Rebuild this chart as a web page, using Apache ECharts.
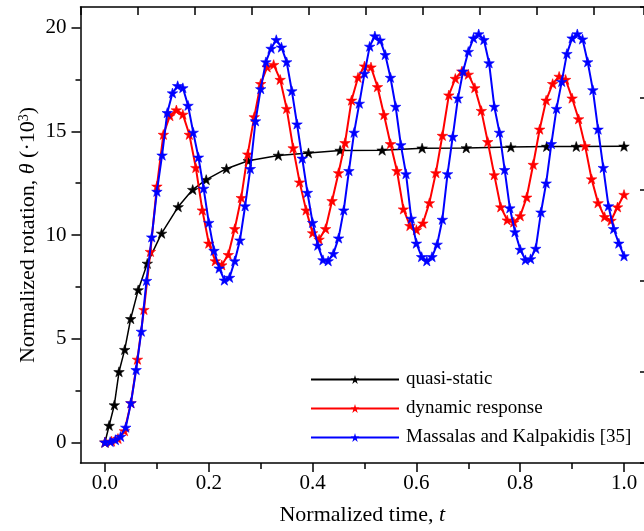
<!DOCTYPE html>
<html><head><meta charset="utf-8">
<script src="https://cdn.jsdelivr.net/npm/echarts@6/dist/echarts.min.js"></script>
<style>html,body{margin:0;padding:0;background:#fff}#c{width:644px;height:531px}</style>
</head><body><div id="c"></div>
<script>
// ---- data ----
const seriesNames = ['quasi-static', 'dynamic response', 'Massalas and Kalpakidis [35]'];

const tQuasi = [0, 0.008, 0.018, 0.027, 0.038, 0.0495, 0.064, 0.0815, 0.109, 0.141, 0.169, 0.195, 0.234, 0.276, 0.334, 0.392, 0.453, 0.534, 0.611, 0.696, 0.782, 0.851, 0.908, 1.0];
const vQuasi = [0, 0.81, 1.80, 3.40, 4.47, 5.96, 7.35, 8.63, 10.08, 11.36, 12.19, 12.67, 13.20, 13.58, 13.84, 13.96, 14.08, 14.09, 14.19, 14.20, 14.24, 14.27, 14.27, 14.28];

const tDynamic = [0, 0.0125, 0.025, 0.0375, 0.05, 0.0625, 0.075, 0.0875, 0.1, 0.1125, 0.125, 0.1375, 0.15, 0.1625, 0.175, 0.1875, 0.2, 0.2125, 0.225, 0.2375, 0.25, 0.2625, 0.275, 0.2875, 0.3, 0.3125, 0.325, 0.3375, 0.35, 0.3625, 0.375, 0.3875, 0.4, 0.4125, 0.425, 0.4375, 0.45, 0.4625, 0.475, 0.4875, 0.5, 0.5125, 0.525, 0.5375, 0.55, 0.5625, 0.575, 0.5875, 0.6, 0.6125, 0.625, 0.6375, 0.65, 0.6625, 0.675, 0.6875, 0.7, 0.7125, 0.725, 0.7375, 0.75, 0.7625, 0.775, 0.7875, 0.8, 0.8125, 0.825, 0.8375, 0.85, 0.8625, 0.875, 0.8875, 0.9, 0.9125, 0.925, 0.9375, 0.95, 0.9625, 0.975, 0.9875, 1.0];
const vDynamic = [0, 0.05, 0.18, 0.55, 1.9, 4.0, 6.4, 9.2, 12.35, 14.85, 15.75, 16.03, 15.82, 14.85, 13.25, 11.2, 9.6, 8.75, 8.55, 9.05, 10.3, 11.8, 13.9, 15.7, 17.3, 18.1, 18.22, 17.5, 16.1, 14.2, 12.55, 11.2, 10.1, 9.79, 10.3, 11.65, 13.0, 14.45, 16.5, 17.6, 18.15, 18.1, 17.15, 15.8, 14.4, 13.1, 11.25, 10.45, 10.25, 10.57, 11.55, 13.0, 14.8, 16.75, 17.55, 17.9, 17.75, 17.1, 16.0, 14.5, 12.9, 11.35, 10.72, 10.62, 10.92, 11.82, 13.4, 15.1, 16.5, 17.3, 17.65, 17.5, 16.6, 15.6, 14.3, 12.7, 11.55, 10.88, 10.7, 11.35, 11.95];

const tMassalas = [0, 0.01, 0.02, 0.03, 0.04, 0.05, 0.06, 0.07, 0.08, 0.09, 0.1, 0.11, 0.12, 0.13, 0.14, 0.15, 0.16, 0.17, 0.18, 0.19, 0.2, 0.21, 0.22, 0.23, 0.24, 0.25, 0.26, 0.27, 0.28, 0.29, 0.3, 0.31, 0.32, 0.33, 0.34, 0.35, 0.36, 0.37, 0.38, 0.39, 0.4, 0.41, 0.42, 0.43, 0.44, 0.45, 0.46, 0.47, 0.48, 0.49, 0.5, 0.51, 0.52, 0.53, 0.54, 0.55, 0.56, 0.57, 0.58, 0.59, 0.6, 0.61, 0.62, 0.63, 0.64, 0.65, 0.66, 0.67, 0.68, 0.69, 0.7, 0.71, 0.72, 0.73, 0.74, 0.75, 0.76, 0.77, 0.78, 0.79, 0.8, 0.81, 0.82, 0.83, 0.84, 0.85, 0.86, 0.87, 0.88, 0.89, 0.9, 0.91, 0.92, 0.93, 0.94, 0.95, 0.96, 0.97, 0.98, 0.99, 1.0];
const vMassalas = [0, 0.03, 0.12, 0.28, 0.72, 1.9, 3.5, 5.35, 7.8, 9.9, 12.1, 13.85, 15.9, 16.85, 17.2, 17.1, 16.25, 14.95, 13.75, 12.25, 10.6, 9.25, 8.4, 7.82, 7.95, 8.75, 9.75, 11.4, 13.2, 15.5, 17.05, 18.35, 19.0, 19.42, 19.06, 18.35, 16.95, 15.35, 13.7, 12.05, 10.6, 9.5, 8.8, 8.75, 9.1, 9.85, 11.2, 13.1, 14.95, 16.35, 17.8, 19.1, 19.6, 19.4, 18.7, 17.6, 16.2, 14.35, 12.95, 10.8, 9.6, 8.95, 8.75, 8.95, 9.55, 10.75, 12.95, 14.75, 16.6, 17.9, 18.85, 19.5, 19.7, 19.42, 18.3, 16.2, 14.95, 13.15, 11.3, 10.15, 9.3, 8.8, 8.85, 9.35, 11.1, 12.5, 14.4, 16.1, 17.4, 18.75, 19.5, 19.7, 19.45, 18.35, 17.0, 15.1, 13.25, 11.4, 10.3, 9.6, 8.99];

const xTickValues = [0, 0.2, 0.4, 0.6, 0.8, 1.0];
const xMinorValues = [0.1, 0.3, 0.5, 0.7, 0.9];
const yTickValues = [0, 5, 10, 15, 20];
const yMinorValues = [2.5, 7.5, 12.5, 17.5];

// ---- chart ----
const F = 'Liberation Serif';
const STAR = 'path://M50,0L61.2,34.5L97.6,34.5L68.2,55.9L79.4,90.5L50,69.1L20.6,90.5L31.8,55.9L2.4,34.5L38.8,34.5Z';
const AX = {color: '#000', width: 1.5};
function pairs(t, v) { return t.map((x, i) => [x, v[i]]); }

const chart = echarts.init(document.getElementById('c'), null, {renderer: 'canvas'});
const option = {
  animation: false,
  backgroundColor: '#fff',
  grid: {left: 80.5, top: 7, right: 0, bottom: 63.5, containLabel: false},
  legend: {
    orient: 'vertical', left: 310, top: 370, padding: 0,
    itemWidth: 88, itemHeight: 11, itemGap: 10,
    itemStyle: {borderWidth: 0},
    textStyle: {fontFamily: F, fontSize: 19, color: '#000', padding: [0, 0, 0, 2]},
    data: seriesNames
  },
  xAxis: [
    {
      type: 'value', position: 'bottom', min: -0.0472, max: 1.0385,
      axisLine: {show: true, onZero: false, lineStyle: AX},
      axisTick: {show: true, customValues: xTickValues, length: 9, lineStyle: AX},
      axisLabel: {customValues: xTickValues, formatter: v => v.toFixed(1), fontFamily: F, fontSize: 21, color: '#000', margin: 10},
      splitLine: {show: false},
      name: 'Normalized time, {i|t}', nameLocation: 'middle', nameGap: 41, nameMoveOverlap: false,
      nameTextStyle: {fontFamily: F, fontSize: 22, color: '#000',
        rich: {i: {fontFamily: F, fontSize: 22, fontStyle: 'italic', color: '#000'}}}
    },
    {
      type: 'value', position: 'bottom', min: -0.0472, max: 1.0385,
      axisLine: {show: false, onZero: false},
      axisTick: {show: true, customValues: xMinorValues, length: 6, lineStyle: AX},
      axisLabel: {show: false}, splitLine: {show: false}
    },
    {
      type: 'value', position: 'top', min: 0, max: 9.886, interval: 1,
      axisLine: {show: true, onZero: false, lineStyle: AX},
      axisTick: {show: true, inside: true, length: 8, lineStyle: AX},
      axisLabel: {show: false}, splitLine: {show: false}
    }
  ],
  yAxis: [
    {
      type: 'value', position: 'left', min: -1, max: 21,
      axisLine: {show: true, onZero: false, lineStyle: AX},
      axisTick: {show: true, customValues: yTickValues, length: 9, lineStyle: AX},
      axisLabel: {customValues: yTickValues, fontFamily: F, fontSize: 21, color: '#000', margin: 14},
      splitLine: {show: false},
      name: 'Normalized rotation, {i|θ} (·10{s|3})', nameLocation: 'middle', nameGap: 41, nameMoveOverlap: false,
      nameTextStyle: {fontFamily: F, fontSize: 22, color: '#000',
        rich: {
          i: {fontFamily: F, fontSize: 22, fontStyle: 'italic', color: '#000'},
          s: {fontFamily: F, fontSize: 14, color: '#000', verticalAlign: 'top', lineHeight: 14}
        }}
    },
    {
      type: 'value', position: 'left', min: -1, max: 21,
      axisLine: {show: false, onZero: false},
      axisTick: {show: true, customValues: yMinorValues, length: 5, lineStyle: AX},
      axisLabel: {show: false}, splitLine: {show: false}
    },
    {
      type: 'value', position: 'right', min: 0, max: 460, interval: 92,
      axisLine: {show: false, onZero: false},
      axisTick: {show: true, inside: true, length: 4, lineStyle: AX},
      axisLabel: {show: false}, splitLine: {show: false}
    }
  ],
  series: [
    {
      name: seriesNames[0], type: 'line', xAxisIndex: 0, yAxisIndex: 0,
      data: pairs(tQuasi, vQuasi), symbol: STAR, symbolSize: 10.5, symbolKeepAspect: true,
      lineStyle: {color: '#000', width: 1.5}, itemStyle: {color: '#000', borderColor: '#000', borderWidth: 0.6}, z: 2
    },
    {
      name: seriesNames[1], type: 'line', xAxisIndex: 0, yAxisIndex: 0,
      data: pairs(tDynamic, vDynamic), symbol: STAR, symbolSize: 10.5, symbolKeepAspect: true,
      lineStyle: {color: '#ff0000', width: 2}, itemStyle: {color: '#ff0000', borderColor: '#ff0000', borderWidth: 0.6}, z: 3
    },
    {
      name: seriesNames[2], type: 'line', xAxisIndex: 0, yAxisIndex: 0,
      data: pairs(tMassalas, vMassalas), symbol: STAR, symbolSize: 10.5, symbolKeepAspect: true,
      lineStyle: {color: '#0000ff', width: 2}, itemStyle: {color: '#0000ff', borderColor: '#0000ff', borderWidth: 0.6}, z: 4
    }
  ]
};
chart.setOption(option);
</script></body></html>
